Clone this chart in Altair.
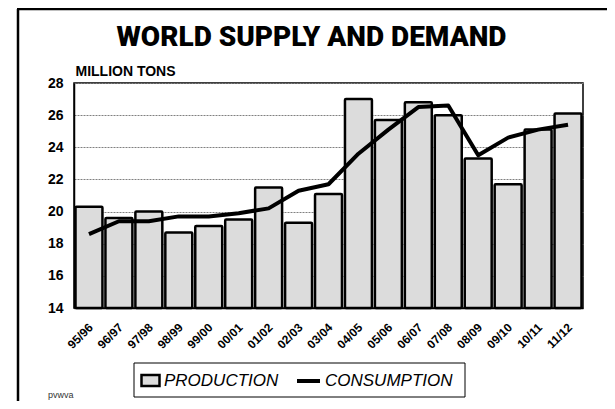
import altair as alt
import pandas as pd

years = ["95/96", "96/97", "97/98", "98/99", "99/00", "00/01", "01/02", "02/03", "03/04",
         "04/05", "05/06", "06/07", "07/08", "08/09", "09/10", "10/11", "11/12"]
production = [20.3, 19.6, 20.0, 18.7, 19.1, 19.5, 21.5, 19.3, 21.1,
              27.0, 25.7, 26.8, 26.0, 23.3, 21.7, 25.1, 26.1]
consumption = [18.6, 19.4, 19.4, 19.7, 19.7, 19.9, 20.2, 21.3, 21.7,
               23.6, 25.1, 26.5, 26.6, 23.5, 24.6, 25.1, 25.4]
y_ticks = [14, 16, 18, 20, 22, 24, 26, 28]

df = pd.DataFrame({
    "year": years,
    "production": production,
    "consumption": consumption,
    "pseries": ["PRODUCTION"] * len(years),
    "cseries": ["CONSUMPTION"] * len(years),
})
one = pd.DataFrame({"a": [0]})

W, H = 509, 225

x_axis = alt.Axis(labelAngle=-45, labelAlign="right", labelBaseline="middle",
                  labelFont="Liberation Sans", labelFontWeight="bold",
                  labelFontSize=12, labelColor="black", labelPadding=17,
                  labelOffset=2, ticks=False, domainColor="black",
                  domainWidth=1.5, labelOverlap=False)
y_axis = alt.Axis(values=y_ticks, tickCount=8, ticks=False, labelFont="Liberation Sans",
                  labelFontWeight="bold", labelFontSize=14, labelColor="black",
                  labelPadding=11, labelOverlap=False, domainColor="black",
                  domainWidth=1.5, grid=True, gridColor="#808080", gridDash=[2, 1],
                  gridWidth=1, titleAngle=0, titleX=1, titleY=-8, titleAlign="left",
                  titleBaseline="alphabetic", titleFont="Liberation Sans",
                  titleFontSize=14, titleFontWeight="bold", titleColor="black")
x_scale = alt.Scale(paddingInner=0.1, paddingOuter=0.05)
y_scale = alt.Scale(domain=[14, 28], nice=False, zero=False)

leg_common = dict(orient="none", title=None, padding=0,
                  labelFont="Liberation Sans", labelFontStyle="italic",
                  labelFontSize=17, labelColor="black", labelOffset=3)

bars = alt.Chart(df).mark_bar(stroke="black", strokeWidth=2.5, cornerRadius=1).encode(
    x=alt.X("year:N", sort=years, title=None, scale=x_scale, axis=x_axis),
    y=alt.Y("production:Q", scale=y_scale, title="MILLION TONS", axis=y_axis),
    y2=alt.datum(14),
    fill=alt.Fill("pseries:N", scale=alt.Scale(domain=["PRODUCTION"], range=["#dcdcdc"]),
                  legend=alt.Legend(legendX=66, legendY=287,
                                    symbolType="M-1,-0.6H1V0.6H-1Z", symbolSize=324,
                                    symbolStrokeColor="black", symbolStrokeWidth=2.5,
                                    **leg_common)),
)

line = alt.Chart(df).mark_line(strokeWidth=4, strokeJoin="round").encode(
    x=alt.X("year:N", sort=years, title=None, scale=x_scale, axis=x_axis),
    y=alt.Y("consumption:Q", scale=y_scale, title="MILLION TONS", axis=y_axis),
    stroke=alt.Stroke("cseries:N", scale=alt.Scale(domain=["CONSUMPTION"], range=["black"]),
                      legend=alt.Legend(legendX=221, legendY=284.5, symbolType="stroke",
                                        symbolSize=529, symbolStrokeWidth=4,
                                        **leg_common)),
)

legend_box = alt.Chart(one).mark_rect(fill="white", stroke="black", strokeWidth=1).encode(
    x=alt.value(60), x2=alt.value(391), y=alt.value(280), y2=alt.value(314))

frame_left = alt.Chart(one).mark_rule(color="black", strokeWidth=2.5).encode(
    x=alt.value(-56), y=alt.value(-74), y2=alt.value(340))
frame_top = alt.Chart(one).mark_rule(color="black", strokeWidth=2.5).encode(
    x=alt.value(-57), x2=alt.value(560), y=alt.value(-74))

note = alt.Chart(one).mark_text(align="left", baseline="middle", fontSize=9,
                                font="Liberation Sans", color="#333333").encode(
    x=alt.value(-26), y=alt.value(312), text=alt.value("pvwva"))

chart = alt.layer(frame_left, frame_top, legend_box, bars, line, note).properties(
    width=W, height=H,
    title=alt.Title("WORLD SUPPLY AND DEMAND", font="Roboto", fontSize=28,
                    fontWeight=900, color="black", anchor="middle", dx=-17, offset=-44),
    autosize=alt.AutoSizeParams(type="none"),
    padding={"left": 66, "top": 75, "right": 24, "bottom": 93},
    background="white",
).configure_view(stroke="black", strokeWidth=1.5)

chart.save("out.html", embed_options={"renderer": "svg", "actions": False})
